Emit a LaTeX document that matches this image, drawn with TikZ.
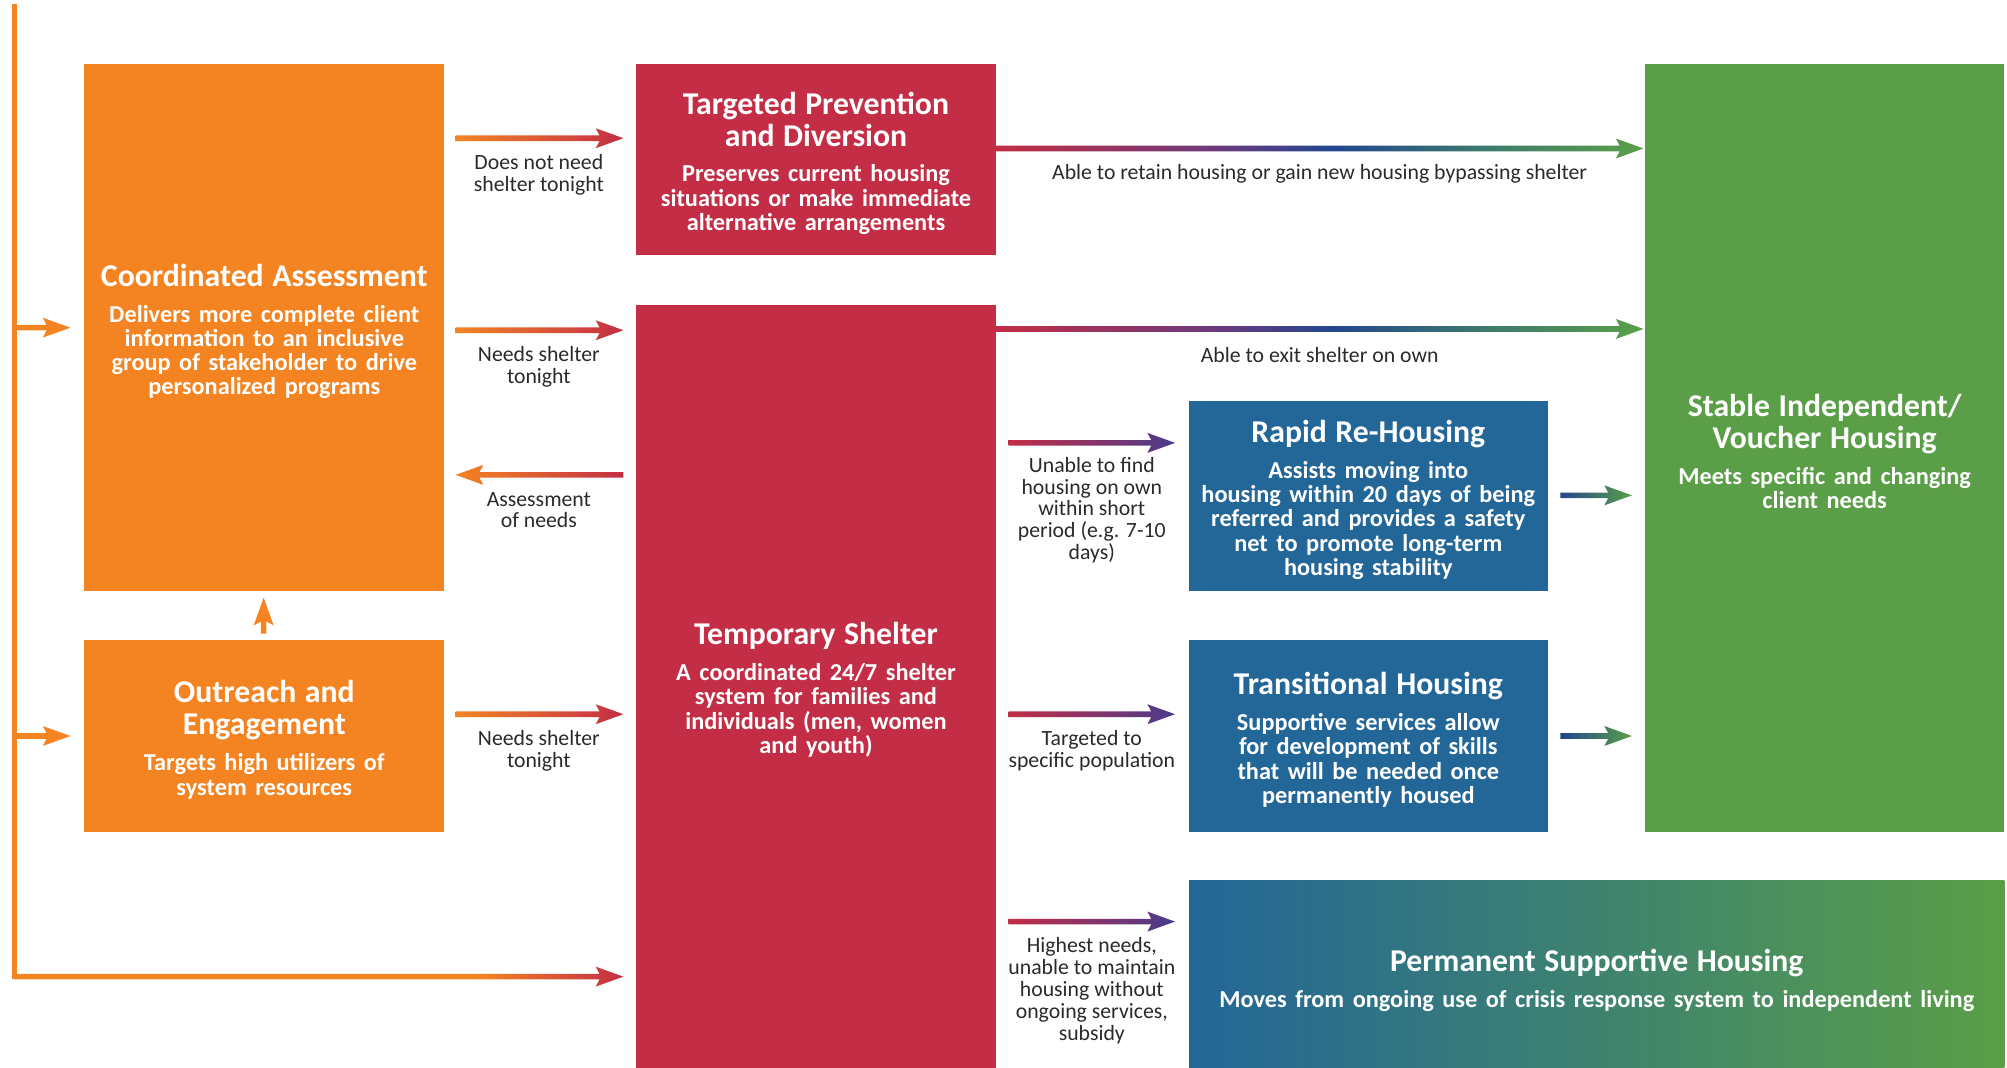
\documentclass[tikz,border=0pt]{standalone}
\usepackage{fontspec}
\setmainfont{Carlito}
\usetikzlibrary{calc}

\definecolor{boxorange}{HTML}{F48421}
\definecolor{boxred}{HTML}{C32D45}
\definecolor{boxblue}{HTML}{236698}
\definecolor{boxgreen}{HTML}{5A9F47}
\definecolor{flowpurple}{HTML}{4A3B8B}
\definecolor{flowplum}{HTML}{6B3A7D}
\definecolor{flowblue}{HTML}{23468E}
\definecolor{flowteal}{HTML}{3D7B6D}
\definecolor{labelgray}{HTML}{2A2A2A}

\pgfdeclarehorizontalshading{redtogreen}{100bp}{color(0bp)=(boxred); color(25bp)=(boxred);
  color(42bp)=(flowplum); color(51bp)=(flowblue); color(63bp)=(flowteal); color(75bp)=(boxgreen); color(100bp)=(boxgreen)}
\pgfdeclarehorizontalshading{orangetored}{100bp}{color(0bp)=(boxorange); color(25bp)=(boxorange);
  color(63bp)=(boxorange); color(75bp)=(boxred); color(100bp)=(boxred)}

\newcommand{\titlefont}{\fontsize{12.4pt}{12.5pt}\selectfont\bfseries\lineskiplimit=-20pt}
\newcommand{\subfont}{\par\vspace{4.5pt}\fontsize{9.5pt}{9.5pt}\selectfont\bfseries\lineskiplimit=-20pt}
\newcommand{\boxend}[1][3pt]{\par\vspace{-#1}}
\newcommand{\labelfont}{\fontsize{8.5pt}{8.5pt}\selectfont\lineskiplimit=-20pt}

\tikzstyle{block} = [rectangle, text=white, inner sep=0pt, align=center,
                 minimum width=140.5pt, text width=138pt]
\tikzstyle{flowlabel} = [text=labelgray, align=center, font=\labelfont, inner sep=0pt]

% arrow with notched head, one outline so it can be shaded
\newcommand{\flowarrow}[3]{%
  \coordinate (hb) at ($(#3)!10.8pt!(#2)$);
  \coordinate (hn) at ($(#3)!9.3pt!(#2)$);
  \path[#1] ($(#2)!1.1pt!90:(#3)$) -- ($(hn)!1.1pt!90:(#3)$) -- ($(hb)!3.9pt!90:(#3)$) -- (#3)
    -- ($(hb)!3.9pt!-90:(#3)$) -- ($(hn)!1.1pt!-90:(#3)$) -- ($(#2)!1.1pt!-90:(#3)$) -- cycle;}

\begin{document}
\begin{tikzpicture}[x=0.5pt,y=-0.5pt]
\useasboundingbox (0,0) rectangle (1568,834);

\node [block, fill=boxorange, minimum height=206pt] at (206.5,256) (ca)
  {\titlefont Coordinated Assessment\subfont Delivers more complete client\\
   information to an inclusive\\ group of stakeholder to drive\\ personalized programs\boxend};
\node [block, fill=boxorange, minimum height=75pt] at (206.5,575) (oe)
  {\titlefont Outreach and\\ Engagement\subfont Targets high utilizers of\\ system resources\boxend};
\node [block, fill=boxred, minimum height=74.5pt] at (637.5,124.5) (tp)
  {\titlefont Targeted Prevention\\ and Diversion\subfont Preserves current housing\\
   situations or make immediate\\ alternative arrangements\boxend};
\node [block, fill=boxred, minimum height=298pt] at (637.5,536) (ts)
  {\titlefont Temporary Shelter\subfont A coordinated 24/7 shelter\\
   system for families and\\ individuals (men, women\\ and youth)\boxend};
\node [block, fill=boxblue, minimum width=140pt, minimum height=74.5pt] at (1069,387.5) (rr)
  {\titlefont Rapid Re-Housing\subfont Assists moving into\\ housing within 20 days of being\\
   referred and provides a safety\\ net to promote long-term\\ housing stability\boxend};
\node [block, fill=boxblue, minimum width=140pt, minimum height=75pt] at (1069,575) (th)
  {\titlefont Transitional Housing\subfont Supportive services allow\\
   for development of skills\\ that will be needed once\\ permanently housed\boxend};
\node [block, fill=boxgreen, minimum height=300pt] at (1425.5,350) (si)
  {\titlefont Stable Independent/\\ Voucher Housing\subfont Meets specific and changing\\ client needs\boxend};
\node [block, left color=boxblue, right color=boxgreen, minimum width=318.5pt, text width=315pt,
  minimum height=73pt] at (1247.5,761) (psh)
  {\titlefont Permanent Supportive Housing\subfont Moves from ongoing use of crisis response system to independent living\boxend[5pt]};

\node [flowlabel] at (421,136.5) (l1) {Does not need\\ shelter tonight};
\node [flowlabel] at (421,286.5) (l2) {Needs shelter\\ tonight};
\node [flowlabel] at (421,398.5) (l3) {Assessment\\ of needs};
\node [flowlabel] at (421,586.5) (l4) {Needs shelter\\ tonight};
\node [flowlabel] at (1031,136) (l5) {Able to retain housing or gain new housing bypassing shelter};
\node [flowlabel] at (1031,277) (l6) {Able to exit shelter on own};
\node [flowlabel] at (853,398.5) (l7) {Unable to find\\ housing on own\\ within short\\ period (e.g. 7-10\\ days)};
\node [flowlabel] at (853,586.5) (l8) {Targeted to\\ specific population};
\node [flowlabel] at (853,774) (l9) {Highest needs,\\ unable to maintain\\ housing without\\ ongoing services,\\ subsidy};

\coordinate (top) at (11,5);       \coordinate (bend) at (11,763);
\coordinate (ca-src) at (11,256);  \coordinate (ca-in) at (55,256);
\coordinate (oe-src) at (11,575);  \coordinate (oe-in) at (55,575);
\coordinate (ca-tp) at (356,108);  \coordinate (tp-in) at (487,108);
\coordinate (ca-ts) at (356,258);  \coordinate (ts-in) at (487,258);
\coordinate (ts-ca) at (487,371);  \coordinate (ca-back) at (356,371);
\coordinate (oe-ts) at (356,558);  \coordinate (ts-in2) at (487,558);
\coordinate (oe-ca) at (206,495);  \coordinate (ca-up) at (206,467);
\coordinate (ts-in3) at (487,763);
\coordinate (tp-si) at (778,116);  \coordinate (si-in) at (1284,116);
\coordinate (ts-si) at (778,257);  \coordinate (si-in2) at (1284,257);
\coordinate (ts-rr) at (788,346);  \coordinate (rr-in) at (918,346);
\coordinate (ts-th) at (788,558);  \coordinate (th-in) at (918,558);
\coordinate (ts-psh) at (788,720); \coordinate (psh-in) at (918,720);
\coordinate (rr-si) at (1219,387); \coordinate (si-in3) at (1275,387);
\coordinate (th-si) at (1219,575); \coordinate (si-in4) at (1275,575);

%entry line
\draw [boxorange, line width=2pt, line cap=rect] (top) -- (bend);
\flowarrow{fill=boxorange}{ca-src}{ca-in}
\flowarrow{fill=boxorange}{oe-src}{oe-in}
\flowarrow{shade, shading=orangetored}{bend}{ts-in3}

\flowarrow{left color=boxorange, right color=boxred}{ca-tp}{tp-in}
\flowarrow{left color=boxorange, right color=boxred}{ca-ts}{ts-in}
\flowarrow{left color=boxorange, right color=boxred}{ts-ca}{ca-back}
\flowarrow{left color=boxorange, right color=boxred}{oe-ts}{ts-in2}
\flowarrow{fill=boxorange}{oe-ca}{ca-up}

\flowarrow{shade, shading=redtogreen}{tp-si}{si-in}
\flowarrow{shade, shading=redtogreen}{ts-si}{si-in2}
\flowarrow{left color=boxred, right color=flowpurple}{ts-rr}{rr-in}
\flowarrow{left color=boxred, right color=flowpurple}{ts-th}{th-in}
\flowarrow{left color=boxred, right color=flowpurple}{ts-psh}{psh-in}
\flowarrow{left color=flowblue, right color=boxgreen}{rr-si}{si-in3}
\flowarrow{left color=flowblue, right color=boxgreen}{th-si}{si-in4}

\end{tikzpicture}
\end{document}
